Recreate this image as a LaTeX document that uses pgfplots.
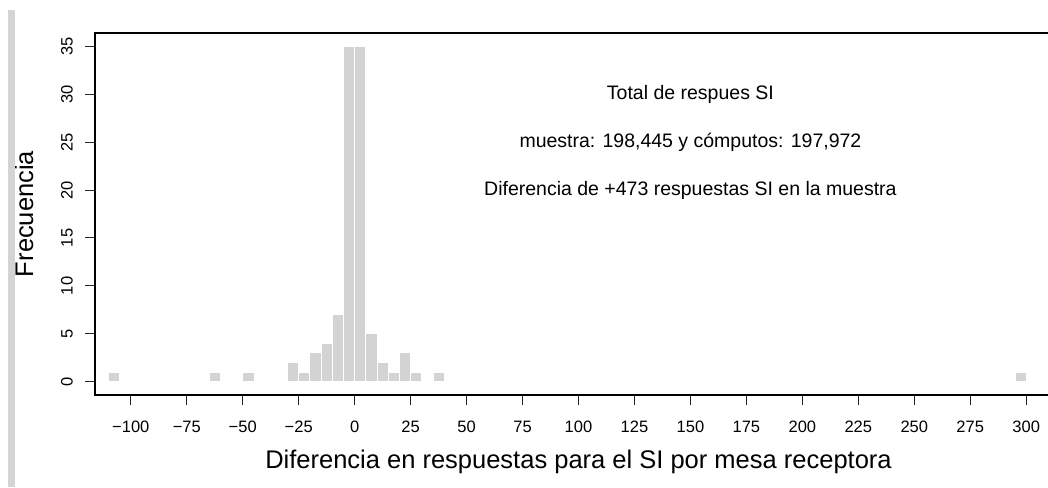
\documentclass[border=0pt]{standalone}
\usepackage{fontspec}
\setmainfont{Liberation Sans}
\usepackage{pgfplots}
\pgfplotsset{compat=1.18}
\usetikzlibrary{calc}
\definecolor{barfill}{HTML}{D3D3D3}
\definecolor{pagebar}{HTML}{D4D4D4}

\begin{document}
\begin{tikzpicture}
\begin{axis}[
  scale only axis, width=967pt, height=362pt,
  xmin=-116, xmax=316, ymin=-1.4, ymax=36.4,
  axis line style={line width=1.6pt},
  tick align=outside, major tick length=10pt,
  tick style={line width=1.1pt, black!85},
  xtick pos=bottom, ytick pos=left,
  xtick={-100,-75,...,300},
  xticklabels={−100,−75,−50,−25,0,25,50,75,100,125,150,175,200,225,250,275,300},
  ytick={0,5,...,35},
  yticklabels={0,5,10,15,20,25,30,35},
  tick label style={font=\fontsize{16.5}{19}\selectfont},
  xticklabel style={anchor=base, inner sep=0pt, yshift=-27pt},
  yticklabel style={rotate=90, anchor=south, inner sep=0pt, yshift=12pt},
  xlabel={Diferencia en respuestas para el SI por mesa receptora},
  ylabel={Frecuencia},
  label style={font=\fontsize{25.5}{30}\selectfont},
  xlabel style={at={(axis description cs:0.5,-0.2017)}, anchor=base},
  ylabel style={at={(axis description cs:-0.0641,0.5)}, anchor=base, rotate=0},
  clip=false,
]
\addplot[ybar, bar width=5, fill=barfill, draw=white, line width=0.8pt] coordinates {
  (-107.5,1) (-62.5,1) (-47.5,1) (-27.5,2) (-22.5,1) (-17.5,3) (-12.5,4)
  (-7.5,7) (-2.5,35) (2.5,35) (7.5,5) (12.5,2) (17.5,1) (22.5,3) (27.5,1)
  (37.5,1) (297.5,1)
};
\begin{scope}[font=\fontsize{19.5}{23}\selectfont]
\node[anchor=base, yshift=-5pt] at (axis cs:150,30) {Total de respues SI};
\node[anchor=base, yshift=-5pt] at (axis cs:150,25) {muestra: 198,445 y cómputos: 197,972};
\node[anchor=base, yshift=-5pt] at (axis cs:150,20) {Diferencia de +473 respuestas SI en la muestra};
\end{scope}
\coordinate (sw) at (rel axis cs:0,0);
\end{axis}
\fill[pagebar] ($(sw)+(-87pt,-92pt)$) rectangle ($(sw)+(-80pt,385pt)$);
\pgfresetboundingbox
\path[use as bounding box] ($(sw)+(-95pt,-92pt)$) rectangle ($(sw)+(953pt,395pt)$);
\end{tikzpicture}
\end{document}
